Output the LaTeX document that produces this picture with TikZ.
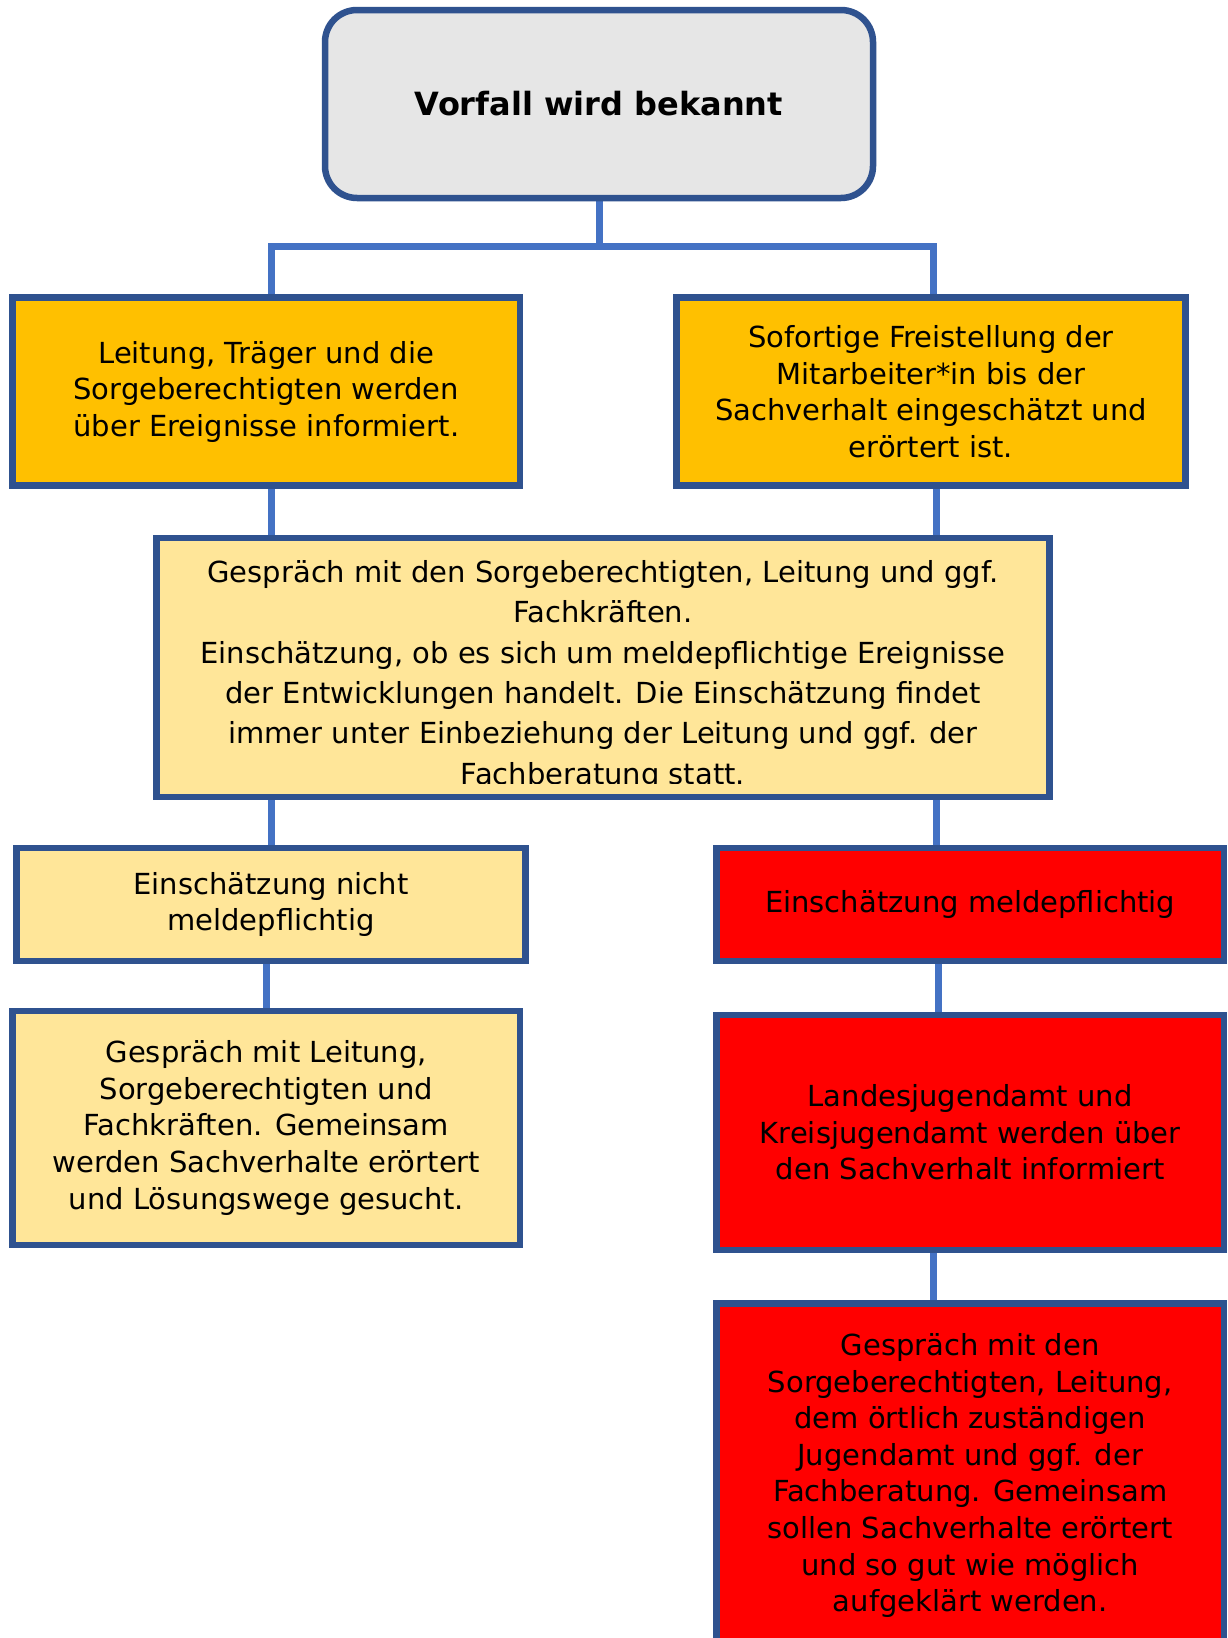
\documentclass[tikz,border=0pt]{standalone}
\usepackage{fontspec}
\setmainfont{DejaVu Sans}
\usetikzlibrary{backgrounds}
\definecolor{bordc}{HTML}{2F528F}
\definecolor{linec}{HTML}{4472C4}
\definecolor{grayf}{HTML}{E6E6E6}
\definecolor{orangef}{HTML}{FFC000}
\definecolor{yellowf}{HTML}{FFE699}
\definecolor{redf}{HTML}{FF0000}
\newcommand{\bodyfont}{\fontsize{29}{36.6}\selectfont}
\newcommand{\midfont}{\fontsize{29}{40.4}\selectfont}
\newcommand{\titlefont}{\fontsize{32}{38}\selectfont\bfseries}
\begin{document}
\begin{tikzpicture}[x=1pt,y=-1pt,
  box/.style={draw=bordc, line width=6.5pt, rectangle, inner sep=0pt, align=center, font=\bodyfont},
  conn/.style={draw=linec, line width=7pt},
  plain/.style={inner sep=0pt, align=center}]
\clip (0,0) rectangle (1227,1638);
% boxes
\node[box, fill=grayf, rounded corners=32pt, minimum width=548pt, minimum height=188pt, font=\titlefont] (top) at (599,104) {Vorfall wird bekannt};
\node[box, fill=orangef, minimum width=507.5pt, minimum height=188pt] (L1) at (266.3,391.6)
  {Leitung, Träger und die\\Sorgeberechtigten werden\\über Ereignisse informiert.};
\node[box, fill=orangef, minimum width=508.6pt, minimum height=188pt] (R1) at (931,391.6)
  {Sofortige Freistellung der\\Mitarbeiter*in bis der\\Sachverhalt eingeschätzt und\\erörtert ist.};
\node[box, fill=yellowf, minimum width=893pt, minimum height=259pt] (mid) at (603,667.3) {};
\begin{scope}
  \clip (157,540) rectangle (1049,783);
  \node[plain, font=\midfont, anchor=north] (midtext) at (603,560)
  {Gespräch mit den Sorgeberechtigten, Leitung und ggf.\\Fachkräften.\\Einschätzung, ob es sich um meldepflichtige Ereignisse\\der Entwicklungen handelt. Die Einschätzung findet\\immer unter Einbeziehung der Leitung und ggf. der\\Fachberatung statt.};
\end{scope}
\node[box, fill=yellowf, minimum width=508.6pt, minimum height=112.8pt] (L2) at (271,904.4)
  {Einschätzung nicht\\meldepflichtig};
\node[box, fill=redf, minimum width=507.6pt, minimum height=112.8pt] (R2) at (970.2,904.4)
  {Einschätzung meldepflichtig};
\node[box, fill=yellowf, minimum width=507.5pt, minimum height=233.9pt] (L3) at (266.3,1127.9)
  {Gespräch mit Leitung,\\Sorgeberechtigten und\\Fachkräften. Gemeinsam\\werden Sachverhalte erörtert\\und Lösungswege gesucht.};
\node[box, fill=redf, minimum width=507.6pt, minimum height=235pt] (R3) at (970.2,1132.5)
  {Landesjugendamt und\\Kreisjugendamt werden über\\den Sachverhalt informiert};
\node[box, fill=redf, minimum width=507.6pt, minimum height=344.6pt] (R4) at (970.2,1475.6)
  {Gespräch mit den\\Sorgeberechtigten, Leitung,\\dem örtlich zuständigen\\Jugendamt und ggf. der\\Fachberatung. Gemeinsam\\sollen Sachverhalte erörtert\\und so gut wie möglich\\aufgeklärt werden.};
% connectors
\coordinate (busL) at (271.5,246.5);
\coordinate (busR) at (933.6,246.5);
\coordinate (colR) at (936.7,0);
\coordinate (colR2) at (938.8,0);
\coordinate (colR3) at (933.6,0);
\begin{scope}[on background layer]
  \fill[white] (0,0) rectangle (1227,1638);
  \draw[conn] (top.south) -- (top.south |- busL);
  \draw[conn, line join=miter] (busL |- L1.north) -- (busL) -- (busR) -- (busR |- R1.north);
  \draw[conn] (busL |- L1.south) -- (busL |- mid.north);
  \draw[conn] (colR |- R1.south) -- (colR |- mid.north);
  \draw[conn] (busL |- mid.south) -- (busL |- L2.north);
  \draw[conn] (colR |- mid.south) -- (colR |- R2.north);
  \draw[conn] (L3.north |- L2.south) -- (L3.north);
  \draw[conn] (colR2 |- R2.south) -- (colR2 |- R3.north);
  \draw[conn] (colR3 |- R3.south) -- (colR3 |- R4.north);
\end{scope}
\end{tikzpicture}
\end{document}
